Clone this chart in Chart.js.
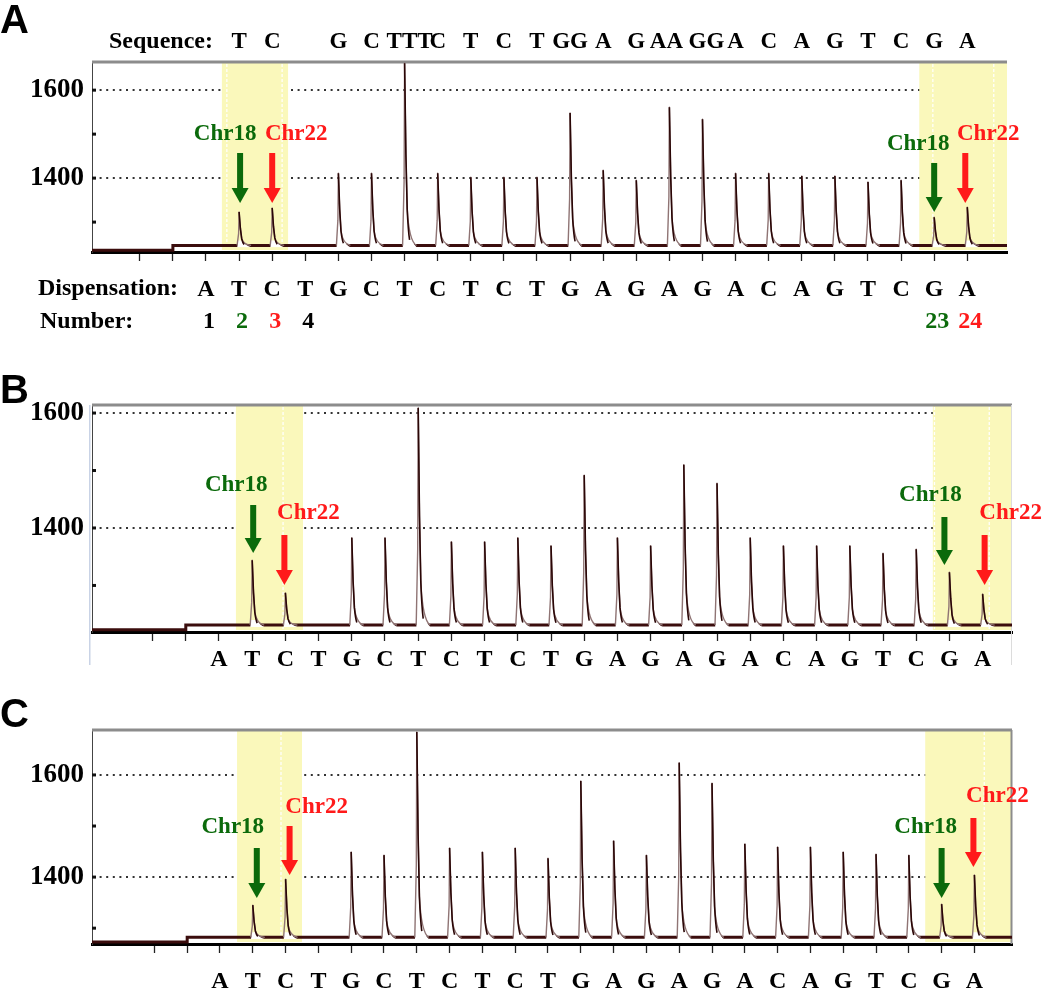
<!DOCTYPE html>
<html><head><meta charset="utf-8">
<script src="https://cdn.jsdelivr.net/npm/chart.js@4.4.1/dist/chart.umd.min.js"></script>
<style>
html,body{margin:0;padding:0;background:#fff;}
#wrap{position:relative;width:1050px;height:989px;overflow:hidden;background:#fff;}
canvas{position:absolute;left:0;}
</style></head><body>
<div id="wrap">
<canvas id="cA" width="1050" height="340" style="top:0px"></canvas>
<canvas id="cB" width="1050" height="330" style="top:340px"></canvas>
<canvas id="cC" width="1050" height="319" style="top:670px"></canvas>
</div>
<script>
// ---------- data ----------
const dispensation = ['A','T','C','T','G','C','T','C','T','C','T','G','A','G','A','G','A','C','A','G','T','C','G','A'];
const sequenceA    = ['','T','C','','G','C','TTT','C','T','C','T','GG','A','G','AA','GG','A','C','A','G','T','C','G','A'];
const xTickPositions = [-1,0,1,2,3,4,5,6,7,8,9,10,11,12,13,14,15,16,17,18,19,20,21,22,23,24];
const numberPositions = [1,2,3,4,23,24];
const numberTexts     = ['1','2','3','4','23','24'];
const yTickValues  = [1300,1400,1500,1600];
const yLabelValues = [1400,1600];
const peaksA = [null,1323,1332,null,1411,1411,1661,1411,1402,1402,1402,1548,1418,1395,1561,1534,1411,1411,1405,1405,1391,1395,1311,1334];
const peaksB = [null,1344,1287,null,1383,1383,1609,1376,1376,1383,1369,1492,1383,1369,1510,1478,1383,1369,1369,1369,1356,1363,1323,1285];
const peaksC = [null,1345,1396,null,1449,1443,1684,1457,1449,1457,1437,1588,1471,1443,1624,1584,1465,1459,1459,1449,1445,1443,1347,1404];
const baselineA = [1236,1247];   // before / after substrate dispensation
const baselineB = [1223,1231];
const baselineC = [1273,1282];
const arrowPositions = [2,3,23,24];
const arrowLabels    = ['Chr18','Chr22','Chr18','Chr22'];

// ---------- styles / layout ----------
const GREEN = '#0b6a0b', RED = '#ff1a1a';
const arrowColors = [GREEN, RED, GREEN, RED];
const numberColors = ['#000', GREEN, RED, '#000', GREEN, RED];
const seqGroupDx = {7: 5, 15: -3, 16: 4};   // small text nudges for multi-letter groups (pixels)
const SERIF = "'Liberation Serif','Times New Roman',serif";
const SANS = "'Liberation Sans',Arial,sans-serif";

const layoutA = {xMin:-2.444, xMax:25.2, yMin:1232, yMax:1664, padTop:62, padRight:43, xAxisH:88, xLabelPad:14,
  bands:[[1.48,3.48],[22.55,25.2]], bandLines:[1.63,3.3,22.96,24.8], letter:'A', letterY:33,
  arrowDx:[1,0,0,-2], arrowY:[[153,203],[153,203],[163,212],[153,203]], textDx:[-15,24,-16,23], textY:[134,134,144,134]};
const layoutB = {xMin:-2.825, xMax:24.885, yMin:1219, yMax:1614, padTop:65, padRight:38, xAxisH:38, xLabelPad:4,
  bands:[[1.51,3.53],[22.5,24.885]], bandLines:[2.93,22.55,24.2], letter:'B', letterY:63, frame:true,
  arrowDx:[1,-1,-5,2], arrowY:[[165,213],[195,245],[177,225],[195,245]], textDx:[-17,24,-14,26], textY:[145,173,155,173]};
const layoutC = {xMin:-2.902, xMax:25.146, yMin:1269, yMax:1688, padTop:60, padRight:38, xAxisH:45, xLabelPad:14,
  bands:[[1.52,3.5],[22.5,25.146]], bandLines:[2.86,24.3], letter:'C', letterY:57, rightBorder:true,
  arrowDx:[4,4,0,-1], arrowY:[[178,228],[156,205],[178,228],[148,197]], textDx:[-24,27,-16,24], textY:[157,137,157,126]};

function drawPeak(ctx, x, yTip, yb) {
  const h = yb - yTip;
  if (!(h > 0)) return;
  ctx.save();
  ctx.save();
  ctx.beginPath(); ctx.rect(x - 4, yb - 5, 18, 7); ctx.clip();
  ctx.fillStyle = '#fff';
  ctx.beginPath();
  ctx.moveTo(x - 1.8, yb + 1.8);
  ctx.lineTo(x - 0.5, yb - 0.35 * h);
  ctx.lineTo(x, yTip);
  ctx.lineTo(x + 1.3, yb - 0.5 * h);
  ctx.lineTo(x + 2.6, yb - 0.2 * h);
  ctx.quadraticCurveTo(x + 4.5, yb - 0.02 * h, x + 12, yb + 1.8);
  ctx.closePath(); ctx.fill();
  ctx.restore();
  ctx.strokeStyle = '#8f7474'; ctx.lineWidth = 1.4; ctx.lineJoin = 'round';
  ctx.beginPath();
  ctx.moveTo(x - 2, yb);
  ctx.lineTo(x - 0.5, yb - 0.35 * h);
  ctx.lineTo(x, yTip);
  ctx.lineTo(x + 1.3, yb - 0.5 * h);
  ctx.lineTo(x + 2.6, yb - 0.2 * h);
  ctx.quadraticCurveTo(x + 4.5, yb - 0.02 * h, x + 12, yb);
  ctx.stroke();
  ctx.strokeStyle = '#2a0606'; ctx.lineWidth = 1.6;
  ctx.beginPath();
  ctx.moveTo(x, yTip);
  ctx.lineTo(x + 1.3, yb - 0.5 * h);
  ctx.lineTo(x + 2.6, yb - 0.2 * h);
  ctx.quadraticCurveTo(x + 3.6, yb - 0.08 * h, x + 5, yb - 0.03 * h);
  ctx.stroke();
  ctx.restore();
}

function drawArrow(ctx, x, y1, y2, color) {
  ctx.save();
  ctx.fillStyle = color;
  ctx.fillRect(x - 3, y1, 6, (y2 - 14) - y1);
  ctx.beginPath();
  ctx.moveTo(x - 8.5, y2 - 15);
  ctx.lineTo(x + 8.5, y2 - 15);
  ctx.lineTo(x, y2);
  ctx.closePath(); ctx.fill();
  ctx.restore();
}

const pyroPlugin = {
  id: 'pyro',
  beforeDatasetsDraw(chart, args, p) {
    const {ctx, chartArea: a, scales: {x, y}} = chart;
    ctx.save();
    ctx.fillStyle = '#faf8bb';
    p.bands.forEach(b => {
      const x1 = x.getPixelForValue(b[0]);
      const x2 = Math.min(x.getPixelForValue(b[1]), a.right);
      ctx.fillRect(x1, a.top + 1, x2 - x1, a.bottom - a.top - 3);
    });
    ctx.strokeStyle = 'rgba(255,255,255,0.95)'; ctx.lineWidth = 1.3; ctx.setLineDash([3, 2]);
    p.bandLines.forEach(v => {
      const px = x.getPixelForValue(v);
      ctx.beginPath(); ctx.moveTo(px, a.top + 2); ctx.lineTo(px, a.bottom - 3); ctx.stroke();
    });
    ctx.setLineDash([]);
    ctx.fillStyle = '#8c8c8c';
    ctx.fillRect(a.left, a.top - 1.5, a.right - a.left, 3);
    if (p.rightBorder) { ctx.fillStyle = '#8c8c8c'; ctx.fillRect(a.right - 1.5, a.top, 2, a.bottom - a.top); }
    if (p.frame) {
      ctx.fillStyle = '#c9d3e6'; ctx.fillRect(a.left - 3, a.top, 1.5, chart.height - a.top - 5);
      ctx.fillStyle = '#dcdcdc'; ctx.fillRect(a.right - 1, a.top, 1, chart.height - a.top - 5);
    }
    ctx.fillStyle = '#111';
    yTickValues.forEach(v => { const py = y.getPixelForValue(v); ctx.fillRect(a.left, py - 1.5, 4, 3); });
    ctx.restore();
  },
  afterDatasetsDraw(chart, args, p) {
    const {ctx, scales: {x, y}} = chart;
    const ds = chart.data.datasets[1];
    const meta = chart.getDatasetMeta(1);
    const yb = y.getPixelForValue(ds.baseValue);
    meta.data.forEach((el, i) => {
      const v = ds.data[i].y;
      if (v == null) return;
      drawPeak(ctx, el.x, el.y, yb);
    });
  },
  afterDraw(chart, args, p) {
    const {ctx, scales: {x}} = chart;
    ctx.save();
    ctx.fillStyle = '#000'; ctx.font = 'bold 40px ' + SANS; ctx.textAlign = 'left'; ctx.textBaseline = 'alphabetic';
    ctx.fillText(p.letter, 0, p.letterY);
    ctx.font = 'bold 23px ' + SERIF; ctx.textAlign = 'center'; ctx.textBaseline = 'middle';
    arrowPositions.forEach((pos, i) => {
      const ax = x.getPixelForValue(pos) + p.arrowDx[i];
      drawArrow(ctx, ax, p.arrowY[i][0], p.arrowY[i][1], arrowColors[i]);
      ctx.fillStyle = arrowColors[i];
      ctx.fillText(arrowLabels[i], ax + p.textDx[i], p.textY[i]);
    });
    if (p.letter === 'A') {
      ctx.fillStyle = '#000';
      ctx.font = 'bold 24px ' + SERIF;
      ctx.textAlign = 'right';
      ctx.fillText('Sequence:', 213, 42);
      ctx.font = 'bold 23px ' + SERIF;
      ctx.textAlign = 'center';
      sequenceA.forEach((s, i) => { if (s) ctx.fillText(s, x.getPixelForValue(i + 1) + (seqGroupDx[i + 1] || 0), 42); });
      ctx.font = 'bold 24px ' + SERIF;
      ctx.textAlign = 'left';
      ctx.fillText('Dispensation:', 38, 289);
      ctx.fillText('Number:', 40, 322);
      ctx.textAlign = 'center';
      numberPositions.forEach((pos, i) => {
        ctx.fillStyle = numberColors[i];
        ctx.fillText(numberTexts[i], x.getPixelForValue(pos) + 3, 322);
      });
    }
    ctx.restore();
  }
};

function makePanel(id, L, peaks, base) {
  return new Chart(document.getElementById(id), {
    type: 'line',
    data: { datasets: [
      { label: 'trace', data: [{x: L.xMin, y: base[0]}, {x: 0, y: base[0]}, {x: 0, y: base[1]}, {x: L.xMax, y: base[1]}],
        borderColor: '#3b0d0d', borderWidth: 3, pointRadius: 0, tension: 0, fill: false },
      { label: 'peaks', data: peaks.map((v, i) => ({x: i + 1, y: v})), baseValue: base[1],
        showLine: false, pointRadius: 0, borderWidth: 0 }
    ]},
    options: {
      responsive: false, animation: false, devicePixelRatio: 1, events: [],
      layout: { padding: { left: 0, right: L.padRight, top: L.padTop, bottom: 0 } },
      plugins: { legend: { display: false }, tooltip: { enabled: false }, pyro: L },
      scales: {
        x: { type: 'linear', min: L.xMin, max: L.xMax,
          afterBuildTicks: s => { s.ticks = xTickPositions.map(v => ({value: v})); },
          afterFit: s => { s.height = L.xAxisH; },
          ticks: { autoSkip: false, maxRotation: 0, minRotation: 0, padding: L.xLabelPad, color: '#000',
            font: { family: SERIF, size: 24, weight: 'bold' },
            callback: v => (v >= 1 ? dispensation[v - 1] : '') },
          grid: { drawOnChartArea: false, drawTicks: true, tickLength: 9, tickColor: '#222', tickWidth: 1.3, color: '#222', offset: false },
          border: { display: true, color: '#000', width: 3 } },
        y: { type: 'linear', min: L.yMin, max: L.yMax,
          afterBuildTicks: s => { s.ticks = yTickValues.map(v => ({value: v})); },
          afterFit: s => { s.width = 92; },
          ticks: { padding: 8, color: '#000', font: { family: SERIF, size: 27, weight: 'bold' },
            callback: v => (yLabelValues.includes(v) ? String(v) : '') },
          grid: { drawTicks: false, lineWidth: 2,
            color: c => (c.tick && yLabelValues.includes(c.tick.value)) ? '#333' : 'rgba(0,0,0,0)' },
          border: { display: true, color: '#444', width: 1, dash: [2, 4.6] } }
      }
    },
    plugins: [pyroPlugin]
  });
}

makePanel('cA', layoutA, peaksA, baselineA);
makePanel('cB', layoutB, peaksB, baselineB);
makePanel('cC', layoutC, peaksC, baselineC);
</script>
</body></html>
